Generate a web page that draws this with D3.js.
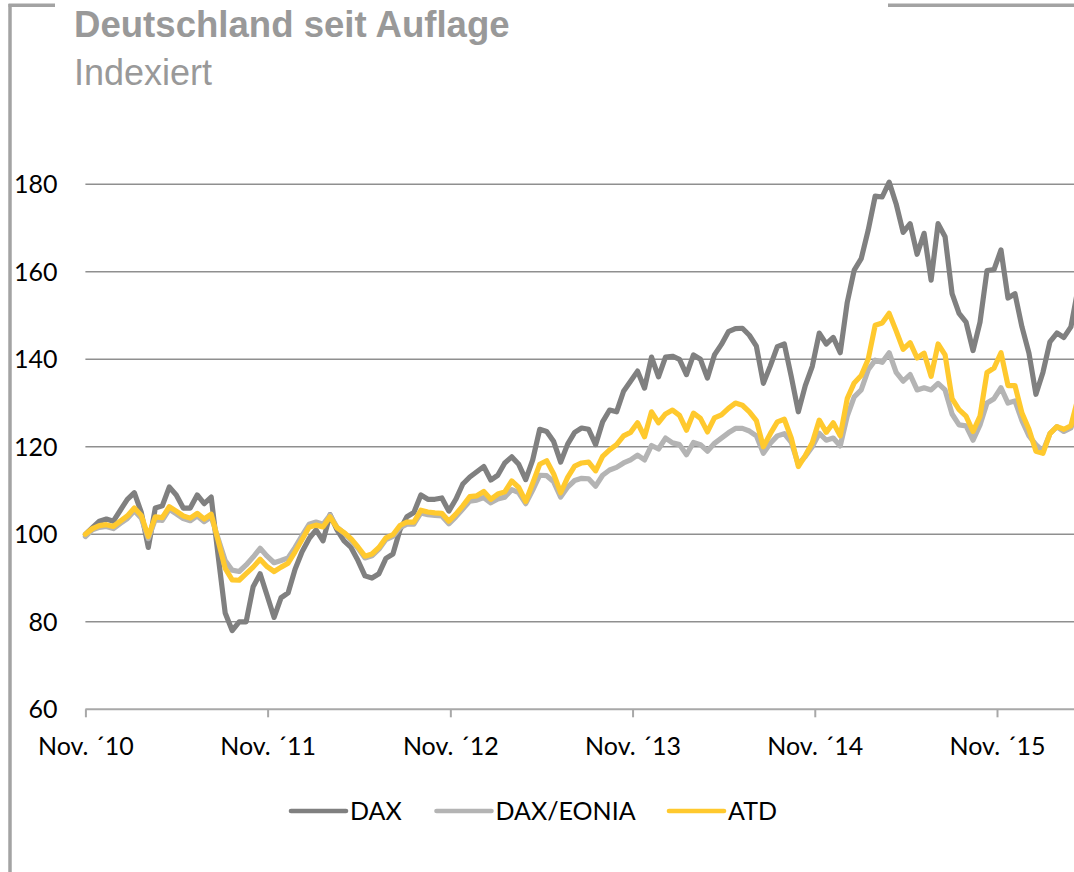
<!DOCTYPE html>
<html><head><meta charset="utf-8">
<script src="https://cdn.jsdelivr.net/npm/d3@7/dist/d3.min.js"></script>
<style>
html,body{margin:0;padding:0;background:#fff;}
svg{display:block;}
</style></head>
<body>
<svg id="chart" width="1074" height="872"></svg>
<script>
// ---- data ----
const titleText = "Deutschland seit Auflage";
const subtitleText = "Indexiert";
const seriesNames = ["DAX", "DAX/EONIA", "ATD"];
const startDate = "2010-11-01";   // first observation
const stepDays = 14;              // one observation every two weeks
const tickDates = ["2010-11-01","2011-11-01","2012-11-01","2013-11-01","2014-11-01","2015-11-01"];
const tickLabels = ["Nov. \u00B410","Nov. \u00B411","Nov. \u00B412","Nov. \u00B413","Nov. \u00B414","Nov. \u00B415"];
const yTicks = [60, 80, 100, 120, 140, 160, 180];

const dax = [100,101.5,103,103.5,103,105.5,108,109.5,105,97,
106,106.5,110.8,109,106,106,109,107,108.5,95,
82,78,80,80,88,91,86,81,85.5,86.6,
92,96,99,101,98.5,104.5,101,98.5,97,94,
90.5,90,91,94.5,95.5,101,104,105,109,108,
108,108.3,105.3,108,111.5,113.1,114.3,115.5,112.4,113.5,
116.3,117.7,116,112.5,117,124,123.5,121.2,116.5,120.6,
123.3,124.3,124,120.5,125.7,128.4,128,132.7,135,137.3,
133.4,140.5,136,140.5,140.7,140,136.5,141,140,135.7,
141,143.4,146.3,147,147.1,145.5,143,134.5,138.5,142.9,
143.5,136,128,134,138.4,146,143.5,145,141.5,153,
160.4,163,169.5,177.3,177.1,180.5,175.5,169,171,164,
168.8,158.1,171,168,155,150.5,148.5,142,148.5,160.3,
160.5,165,154,155,147.4,141.4,132,137,144,146,
145,147.4,156];

const daxEonia = [99.5,101,101.6,101.8,101.3,102.5,103.6,105.4,103.7,99,
103.4,103.2,105.7,104.7,103.6,103.1,104.2,102.9,104,99,
94,91.8,91.5,93,94.8,96.8,95,93.5,94,94.6,
97,99.7,102.3,102.8,102.3,104.4,101.6,100.3,98.7,96.8,
94.6,95.1,96.6,98.8,99.5,101.5,102.3,102.3,104.9,104.5,
104.3,104.2,102.4,104,105.8,107.6,107.8,108.4,107.2,108.1,
108.5,110.2,109.5,107,110.1,113.5,113.4,112,108.5,110.8,
112.3,112.8,112.7,111,113.5,114.7,115.3,116.3,117,118.1,
117,120.3,119.5,122,120.9,120.5,118.2,121,120.5,119,
120.8,122,123.2,124.2,124.2,123.6,122.5,118.5,120.8,122.5,
123,121,116,117.8,120,123.1,121.5,122,120.2,127,
131.4,133,137.6,139.8,139.3,141.5,137,135,136.5,133,
133.5,133,134.5,133,127.5,125,124.8,121.5,125,130,
131,133.5,130,130.5,126,122.5,120.5,119,123,124.6,
123.5,124.3,128.5];

const atd = [100,101.3,102,102.2,101.8,103,104.2,106,104.3,99.5,
104,103.8,106.3,105.3,104.2,103.7,104.8,103.5,104.6,98.5,
92.2,89.6,89.5,91,92.5,94.3,92.6,91.5,92.5,93.4,
96,98.8,101.6,102.1,101.7,104,101.5,100.4,99,97.1,
95,95.5,97,99.2,99.9,102,102.8,102.8,105.5,105.1,
104.9,104.8,103,104.6,106.5,108.6,108.8,109.8,108,109.2,
109.7,112.2,110.7,107.5,111.7,116,116.8,113.8,109.5,113,
115.6,116.3,116.5,114.5,117.8,119.3,120.5,122.5,123.3,125.5,
122.3,128,125.5,127.5,128.4,127.2,123.8,127.7,126.5,123.4,
126.6,127.3,128.8,130,129.5,128,126,120,123,125.7,
126.3,122,115.5,118,120.9,126.1,123.3,125.5,122.5,131,
134.6,136.3,140,147.8,148.3,150.5,146.5,142.3,143.8,140.3,
141.4,136.1,143.5,141,131,128.5,127,123.5,127,137,
138,141.5,134,134,127.7,124,119,118.5,123,124.6,
124,124.8,131];

const seriesValues = [dax, daxEonia, atd];
const seriesColors = ["#808080", "#b4b4b4", "#ffc92e"];

// ---- layout ----
const W = 1074, H = 872;
const svg = d3.select("#chart");
const parse = d3.utcParse("%Y-%m-%d");
const t0 = parse(startDate);
const dates = dax.map((_, i) => d3.utcDay.offset(t0, stepDays * i));

const x = d3.scaleUtc()
  .domain([parse(tickDates[0]), parse(tickDates[5])])
  .range([85.4, 997]);
const y = d3.scaleLinear().domain([60, 180]).range([709.3, 184.3]);

// frame lines
const frameColor = "#a3a3a3";
svg.append("line").attr("x1", 10).attr("x2", 10).attr("y1", 4).attr("y2", H)
  .attr("stroke", frameColor).attr("stroke-width", 3.5);
svg.append("line").attr("x1", 8.5).attr("x2", 55).attr("y1", 5.3).attr("y2", 5.3)
  .attr("stroke", frameColor).attr("stroke-width", 3.5);
svg.append("line").attr("x1", 888).attr("x2", W).attr("y1", 5.3).attr("y2", 5.3)
  .attr("stroke", frameColor).attr("stroke-width", 3.5);

// titles
svg.append("text").attr("x", 74).attr("y", 37)
  .attr("font-family", "Liberation Sans, Arial, sans-serif").attr("font-weight", "bold")
  .attr("font-size", 36.6).attr("fill", "#999999").text(titleText);
svg.append("text").attr("x", 74).attr("y", 85)
  .attr("font-family", "Liberation Sans, Arial, sans-serif")
  .attr("font-size", 36).attr("fill", "#999999").text(subtitleText);

const labelFont = "Lato, 'Open Sans', sans-serif";

// gridlines
svg.append("g").selectAll("line").data(yTicks.filter(v => v > 60)).join("line")
  .attr("x1", 85.4).attr("x2", W)
  .attr("y1", d => y(d)).attr("y2", d => y(d))
  .attr("stroke", "#8f8f8f").attr("stroke-width", 1.6);

// y labels
svg.append("g").selectAll("text").data(yTicks).join("text")
  .attr("x", 57.5).attr("y", d => y(d)).attr("dy", "0.36em")
  .attr("text-anchor", "end").attr("font-family", labelFont).attr("font-size", 25)
  .attr("fill", "#000").text(d => d);

// x axis
const xAxis = d3.axisBottom(x)
  .tickValues(tickDates.map(parse))
  .tickFormat((d, i) => tickLabels[i])
  .tickSize(8).tickSizeOuter(0);
const gx = svg.append("g").attr("transform", `translate(0,${y(60)})`).call(xAxis);
gx.select(".domain").attr("d", `M85.4,0H${W}`).attr("stroke", "#a8a8a8").attr("stroke-width", 2);
gx.selectAll(".tick line").attr("stroke", "#a8a8a8").attr("stroke-width", 2);
gx.selectAll(".tick text").attr("font-family", labelFont).attr("font-size", 25)
  .attr("fill", "#000").attr("y", 0).attr("dy", 0).attr("transform", "translate(0,46)");

// lines
const line = d3.line().x((d, i) => x(dates[i])).y(d => y(d));
svg.append("g").selectAll("path").data(seriesValues).join("path")
  .attr("d", d => line(d))
  .attr("fill", "none")
  .attr("stroke", (d, i) => seriesColors[i])
  .attr("stroke-width", 5.2)
  .attr("stroke-linejoin", "round")
  .attr("stroke-linecap", "round");

// legend
const legendX = [291, 436.5, 669];
const leg = svg.append("g").selectAll("g").data(seriesNames).join("g")
  .attr("transform", (d, i) => `translate(${legendX[i]},811)`);
leg.append("line").attr("x1", 0).attr("x2", 55).attr("y1", 0).attr("y2", 0)
  .attr("stroke", (d, i) => seriesColors[i]).attr("stroke-width", 4.6)
  .attr("stroke-linecap", "round");
leg.append("text").attr("x", 59).attr("y", 0).attr("dy", "0.36em")
  .attr("font-family", labelFont).attr("font-size", 25).attr("fill", "#000")
  .text(d => d);
</script>
</body></html>
